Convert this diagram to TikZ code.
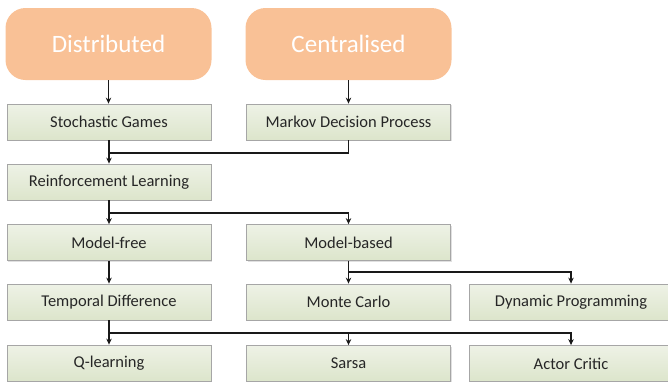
\documentclass[tikz,border=0pt]{standalone}
\usepackage{fontspec}
\setmainfont{Carlito}
\usetikzlibrary{arrows.meta,shadows}
\definecolor{orangebox}{HTML}{F9C196}
\definecolor{greentop}{HTML}{EEF2E6}
\definecolor{greenbot}{HTML}{DCE5CB}
\definecolor{boxline}{HTML}{A6A6A6}
\definecolor{txt}{HTML}{262626}
\tikzset{
  topbox/.style={rectangle, rounded corners=20pt, fill=orangebox, draw=none,
    minimum width=206pt, minimum height=72pt, inner sep=0pt,
    text=white, font=\fontsize{25}{30}\selectfont},
  greenbox/.style={rectangle, draw=boxline, line width=0.8pt, top color=greentop, bottom color=greenbot,
    minimum width=204pt, minimum height=36pt, inner sep=0pt,
    text=txt, font=\fontsize{16.5}{20}\selectfont,
    drop shadow={shadow xshift=1.2pt, shadow yshift=-1.2pt, fill=black!12, opacity=1}},
  conn/.style={draw=black!90, line width=1.3pt},
  arr/.style={conn, -{Stealth[length=6pt,width=5.5pt]}}
}
\begin{document}
\begin{tikzpicture}[x=1pt,y=-1pt]
\useasboundingbox (0,0) rectangle (668,381);
\clip (0,0) rectangle (668,381);
\node[topbox] (dist) at (108.5,44) {Distributed};
\node[topbox] (cent) at (348.5,44) {Centralised};
\node[greenbox] (sg) at (109,122) {Stochastic Games};
\node[greenbox] (mdp) at (348.5,122) {Markov Decision Process};
\node[greenbox] (rl) at (109,182) {Reinforcement Learning};
\node[greenbox] (mf) at (109,242.5) {Model-free};
\node[greenbox] (mb) at (348.5,242.5) {Model-based};
\node[greenbox] (td) at (109,302) {Temporal Difference};
\node[greenbox] (mc) at (348.5,302) {Monte Carlo};
\node[greenbox] (dp) at (571,302) {Dynamic Programming};
\node[greenbox] (ql) at (109,363) {Q-learning};
\node[greenbox] (sa) at (348.5,363.5) {Sarsa};
\node[greenbox] (ac) at (571,363.5) {Actor Critic};
\coordinate (j1) at (109,153);
\coordinate (j2) at (109,213);
\coordinate (j3) at (348.5,272);
\coordinate (j4) at (109,333);
\draw[arr] (dist.south) -- (dist.south |- sg.north);
\draw[arr] (cent.south) -- (cent.south |- mdp.north);
\draw[arr] (sg.south) -- (rl.north);
\draw[conn] (mdp.south) |- (j1);
\draw[arr] (rl.south) -- (mf.north);
\draw[arr] (j2) -| (mb.north);
\draw[arr] (mf.south) -- (td.north);
\draw[arr] (mb.south) -- (mc.north);
\draw[arr] (j3) -| (dp.north);
\draw[arr] (td.south) -- (ql.north);
\draw[arr] (j4) -| (sa.north);
\draw[arr] (j4) -| (ac.north);
\end{tikzpicture}
\end{document}
